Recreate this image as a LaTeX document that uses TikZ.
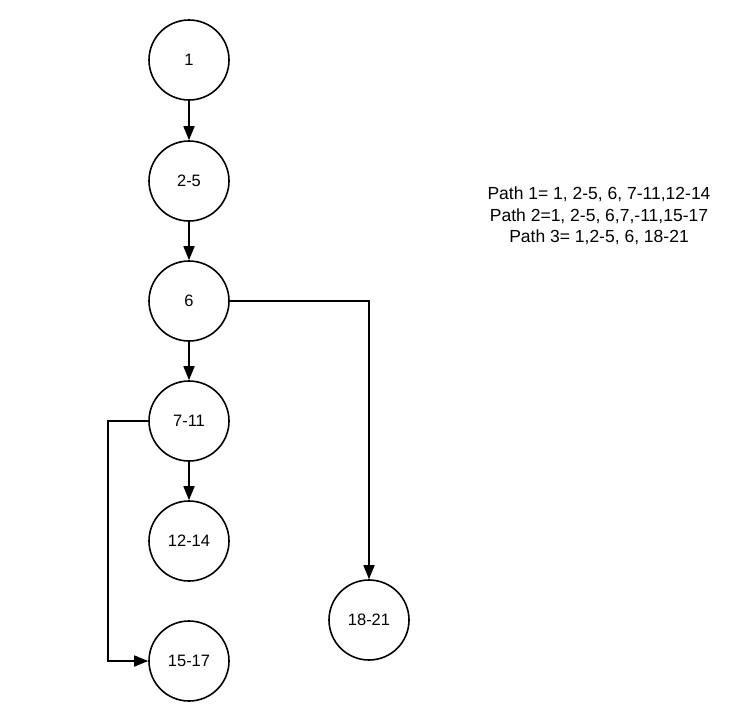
\documentclass[tikz,border=0pt]{standalone}
\usepackage{fontspec}
\setmainfont{Liberation Sans}
\usetikzlibrary{arrows.meta}
\begin{document}
\begin{tikzpicture}[x=1pt,y=-1pt,
  blk/.style={circle,draw=black,line width=1.6pt,minimum size=80pt,inner sep=0pt,font=\fontsize{16.5}{18}\selectfont},
  conn/.style={line width=1.6pt,-{Triangle[length=14pt,width=11pt]}},
  info/.style={align=center,font=\fontsize{17.5}{21.5}\selectfont,inner sep=0pt}]
\useasboundingbox (0,0) rectangle (741,707);
\node[blk] (n1) at (189,60) {1};
\node[blk] (n2) at (189,181) {2-5};
\node[blk] (n6) at (189,301) {6};
\node[blk] (n7) at (189,421) {7-11};
\node[blk] (n12) at (189,541) {12-14};
\node[blk] (n15) at (189,661) {15-17};
\node[blk] (n18) at (369,620) {18-21};
\node[info] (txt) at (599,216) {Path 1= 1, 2-5, 6, 7-11,12-14\\Path 2=1, 2-5, 6,7,-11,15-17\\Path 3= 1,2-5, 6, 18-21};
\draw[conn] (n1) -- (n2);
\draw[conn] (n2) -- (n6);
\draw[conn] (n6) -- (n7);
\draw[conn] (n7) -- (n12);
\draw[conn] (n6.east) -| (n18.north);
\coordinate (c1) at (108,421);
\coordinate (c2) at (108,661);
\draw[conn] (n7.west) -- (c1) -- (c2) -- (n15.west);
\end{tikzpicture}
\end{document}
